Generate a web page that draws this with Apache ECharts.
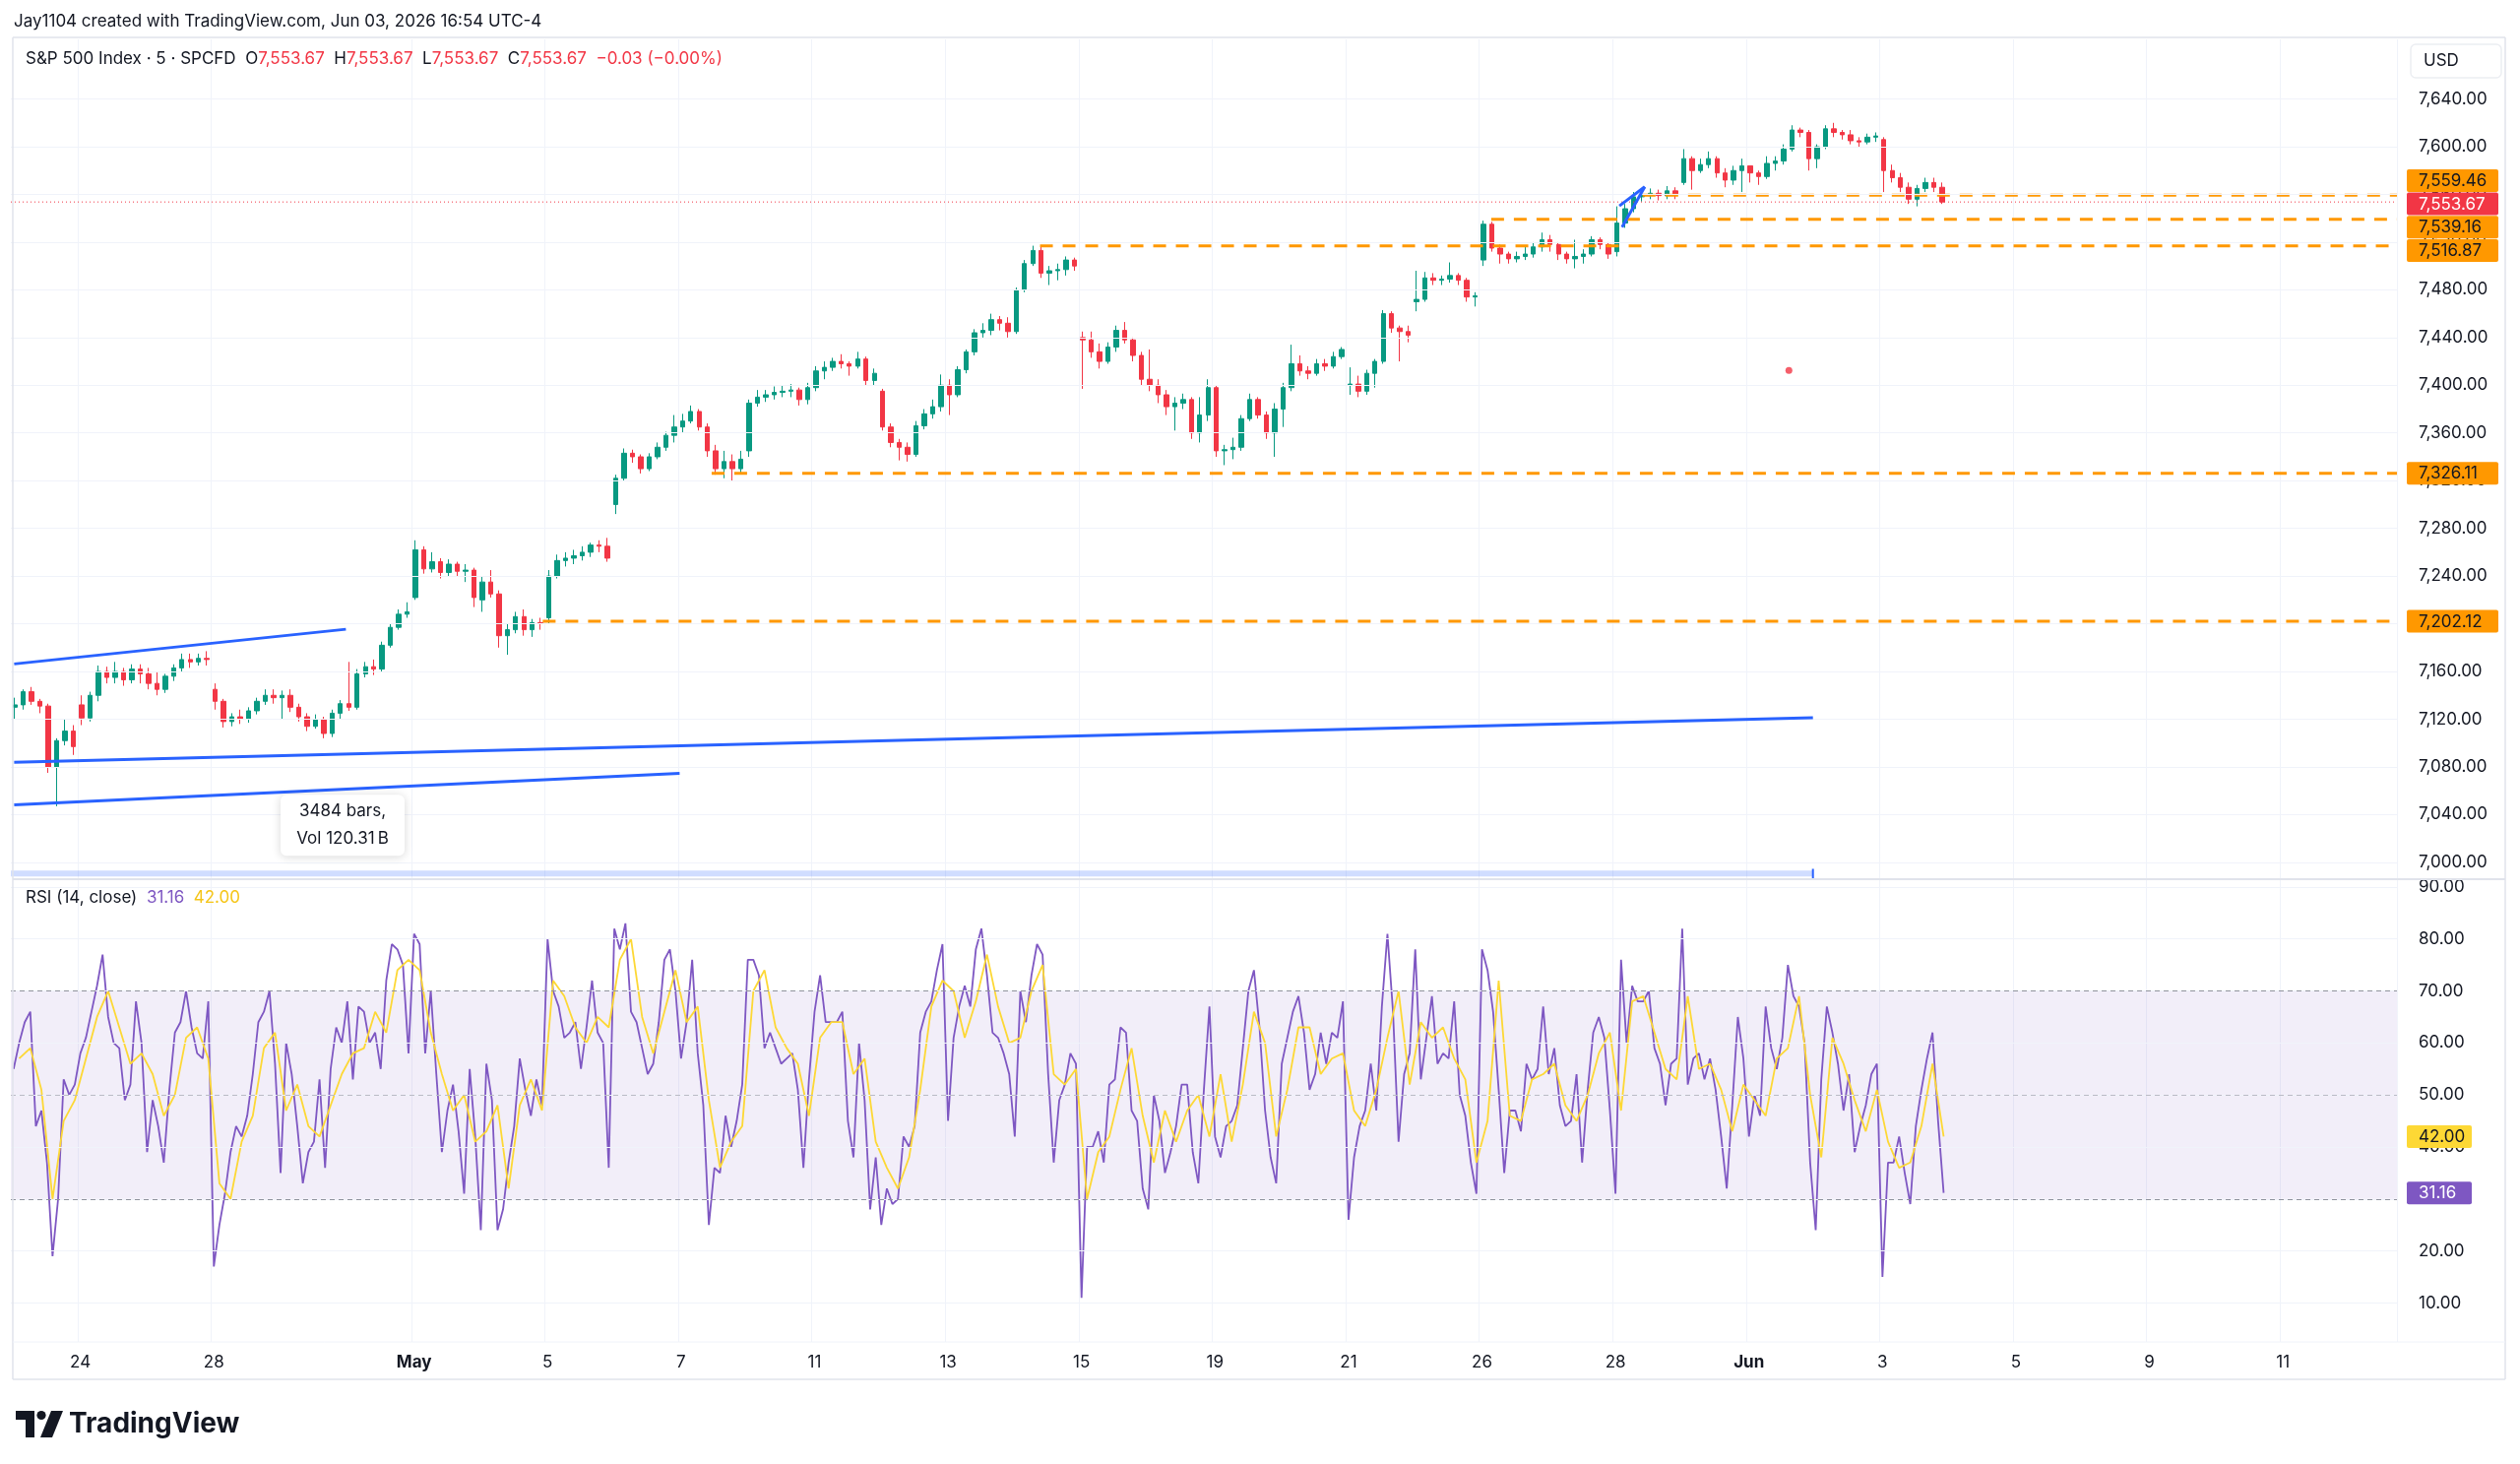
<!DOCTYPE html>
<html>
<head>
<meta charset="utf-8">
<script src="https://cdn.jsdelivr.net/npm/echarts@6/dist/echarts.min.js"></script>
<style>
html,body{margin:0;padding:0;background:#ffffff;}
#chart{width:2560px;height:1487px;}
</style>
</head>
<body>
<div id="chart"></div>
<script>
// ---------------- DATA ----------------
// trading sessions (plus future sessions that the time scale extends into)
const sessionDays = ['Apr 23','Apr 24','Apr 27','Apr 28','Apr 29','Apr 30','May 1','May 4','May 5','May 6','May 7','May 8',
  'May 11','May 12','May 13','May 14','May 15','May 18','May 19','May 20','May 21','May 22','May 26','May 27','May 28','May 29',
  'Jun 1','Jun 2','Jun 3'];
const futureDays = ['Jun 4','Jun 5','Jun 8','Jun 9','Jun 10','Jun 11','Jun 12'];

// time-axis tick labels
const tickDays  = ['Apr 24','Apr 28','May 1','May 5','May 7','May 11','May 13','May 15','May 19','May 21','May 26','May 28','Jun 1','Jun 3','Jun 5','Jun 9','Jun 11'];
const tickTexts = ['24','28','May','5','7','11','13','15','19','21','26','28','Jun','3','5','9','11'];

// price candles, 8 per session: [open, close, low, high]
const candles = [
  // Apr 23
  [7130,7132,7120,7138],[7132,7143,7128,7145],[7143,7135,7132,7147],[7135,7131,7125,7137],[7131,7080,7075,7133],[7080,7102,7047,7104],[7102,7110,7098,7120],[7110,7097,7090,7115],
  // Apr 24
  [7132,7121,7115,7140],[7121,7140,7118,7143],[7140,7160,7135,7165],[7160,7155,7150,7164],[7155,7160,7150,7168],[7160,7153,7148,7163],[7153,7162,7150,7166],[7162,7158,7150,7166],
  // Apr 27
  [7158,7150,7145,7163],[7150,7145,7140,7160],[7145,7156,7142,7158],[7156,7163,7152,7166],[7163,7170,7160,7175],[7170,7168,7163,7175],[7168,7171,7165,7175],[7171,7170,7165,7177],
  // Apr 28
  [7145,7135,7128,7150],[7135,7118,7113,7137],[7118,7122,7114,7125],[7122,7120,7116,7128],[7120,7127,7117,7130],[7127,7135,7124,7138],[7135,7140,7132,7145],[7140,7138,7133,7145],
  // Apr 29
  [7138,7140,7120,7144],[7140,7130,7126,7145],[7130,7122,7118,7133],[7122,7114,7110,7125],[7114,7120,7112,7124],[7120,7108,7104,7122],[7108,7125,7105,7128],[7125,7133,7120,7136],
  // Apr 30
  [7133,7130,7127,7168],[7130,7158,7128,7162],[7158,7164,7155,7168],[7164,7162,7157,7170],[7162,7182,7160,7185],[7182,7197,7180,7200],[7197,7208,7195,7212],[7208,7210,7205,7218],
  // May 1
  [7222,7262,7220,7270],[7262,7246,7242,7265],[7246,7252,7243,7260],[7252,7243,7238,7255],[7243,7250,7240,7254],[7250,7244,7240,7252],[7244,7245,7235,7250],[7245,7222,7214,7247],
  // May 4
  [7220,7235,7210,7240],[7235,7225,7222,7245],[7225,7190,7180,7228],[7190,7195,7174,7200],[7195,7206,7192,7210],[7206,7195,7190,7212],[7195,7201,7189,7204],[7201,7200,7195,7205],
  // May 5
  [7205,7240,7200,7245],[7240,7253,7238,7258],[7253,7255,7248,7260],[7255,7257,7250,7262],[7257,7260,7253,7265],[7260,7266,7256,7268],[7266,7265,7260,7270],[7265,7255,7252,7272],
  // May 6
  [7300,7322,7292,7325],[7322,7343,7320,7347],[7343,7340,7335,7346],[7340,7330,7326,7342],[7330,7340,7328,7343],[7340,7348,7338,7352],[7348,7358,7345,7361],[7358,7365,7352,7375],
  // May 7
  [7365,7370,7360,7376],[7370,7378,7368,7383],[7378,7365,7362,7380],[7365,7345,7340,7368],[7345,7330,7325,7350],[7330,7336,7322,7345],[7336,7330,7320,7342],[7330,7338,7326,7345],
  // May 8
  [7345,7385,7340,7388],[7385,7390,7382,7396],[7390,7392,7386,7396],[7392,7394,7388,7399],[7394,7395,7390,7400],[7395,7396,7390,7401],[7396,7388,7383,7398],[7388,7398,7384,7402],
  // May 11
  [7398,7412,7395,7416],[7412,7415,7405,7420],[7415,7420,7412,7423],[7420,7418,7414,7426],[7418,7416,7408,7420],[7416,7422,7414,7428],[7422,7404,7400,7424],[7404,7410,7400,7414],
  // May 12
  [7395,7365,7362,7397],[7365,7352,7348,7368],[7352,7348,7337,7355],[7348,7342,7336,7352],[7342,7366,7340,7370],[7366,7376,7363,7380],[7376,7382,7372,7388],[7382,7400,7378,7409],
  // May 13
  [7400,7392,7375,7405],[7392,7413,7390,7416],[7413,7428,7410,7430],[7428,7444,7425,7447],[7444,7446,7440,7452],[7446,7455,7442,7460],[7455,7452,7446,7458],[7452,7445,7440,7457],
  // May 14
  [7445,7480,7443,7482],[7480,7502,7478,7505],[7502,7513,7500,7517],[7513,7494,7490,7516],[7494,7496,7484,7500],[7496,7497,7488,7502],[7497,7505,7492,7508],[7505,7500,7496,7507],
  // May 15
  [7440,7438,7397,7445],[7438,7428,7423,7445],[7428,7420,7414,7435],[7420,7432,7418,7436],[7432,7446,7428,7450],[7446,7438,7435,7453],[7438,7425,7420,7440],[7425,7405,7400,7428],
  // May 18
  [7405,7400,7395,7430],[7400,7392,7385,7405],[7392,7382,7375,7396],[7382,7385,7362,7390],[7385,7388,7380,7393],[7388,7360,7355,7390],[7360,7375,7352,7390],[7375,7398,7370,7405],
  // May 19
  [7398,7345,7340,7400],[7345,7346,7333,7350],[7346,7348,7338,7356],[7348,7372,7345,7375],[7372,7388,7370,7393],[7388,7375,7372,7390],[7375,7360,7355,7378],[7360,7380,7340,7385],
  // May 20
  [7380,7398,7365,7402],[7398,7418,7395,7434],[7418,7412,7408,7425],[7412,7410,7405,7416],[7410,7418,7408,7422],[7418,7416,7412,7422],[7416,7424,7414,7428],[7424,7430,7422,7432],
  // May 21
  [7400,7401,7392,7415],[7401,7395,7390,7408],[7395,7410,7392,7413],[7410,7420,7398,7422],[7420,7460,7418,7463],[7460,7448,7444,7462],[7448,7445,7420,7450],[7445,7442,7436,7450],
  // May 22
  [7470,7472,7462,7496],[7472,7490,7470,7495],[7490,7488,7484,7494],[7488,7489,7484,7492],[7489,7492,7486,7503],[7492,7488,7484,7494],[7488,7474,7470,7490],[7474,7475,7466,7478],
  // May 26
  [7505,7535,7500,7538],[7535,7515,7512,7537],[7515,7510,7502,7518],[7510,7506,7502,7512],[7506,7508,7503,7512],[7508,7510,7505,7516],[7510,7516,7507,7520],[7516,7522,7512,7528],
  // May 27
  [7522,7518,7512,7526],[7518,7510,7505,7520],[7510,7506,7502,7512],[7506,7508,7498,7522],[7508,7510,7502,7514],[7510,7522,7508,7525],[7522,7518,7514,7524],[7518,7510,7506,7520],
  // May 28
  [7512,7536,7508,7550],[7536,7548,7532,7552],[7548,7558,7545,7562],[7558,7559,7554,7564],[7559,7561,7556,7565],[7561,7559,7555,7564],[7559,7563,7556,7567],[7563,7560,7556,7566],
  // May 29
  [7570,7590,7568,7598],[7590,7580,7564,7592],[7580,7585,7578,7590],[7585,7590,7582,7596],[7590,7578,7574,7592],[7578,7572,7566,7582],[7572,7580,7568,7584],[7580,7584,7562,7590],
  // Jun 1
  [7584,7578,7570,7584],[7578,7575,7568,7580],[7575,7586,7573,7592],[7586,7588,7580,7592],[7588,7598,7585,7602],[7598,7614,7596,7618],[7614,7612,7608,7616],[7612,7590,7580,7614],
  // Jun 2
  [7590,7600,7582,7602],[7600,7615,7598,7618],[7615,7612,7608,7620],[7612,7610,7606,7614],[7610,7605,7602,7614],[7605,7604,7600,7608],[7604,7608,7602,7611],[7608,7609,7604,7612],
  // Jun 3
  [7606,7580,7562,7608],[7580,7574,7570,7585],[7574,7566,7562,7578],[7566,7556,7552,7570],[7556,7565,7550,7568],[7565,7570,7562,7574],[7570,7566,7562,7574],[7566,7553.67,7552,7570]
];
const lastClose = 7553.67;
const lastChange = '\u22120.03 (\u22120.00%)';

// RSI(14), 12 readings per session
const rsiValues = [
  55,60,64,66,44,47,37,19,30,53,50,52,
  58,61,66,71,77,65,60,59,49,52,68,60,
  39,49,44,37,51,62,64,70,63,58,57,68,
  17,25,31,39,44,42,46,54,64,66,70,56,
  35,60,54,44,33,39,41,53,36,55,63,60,
  68,53,67,66,60,62,55,72,79,78,75,58,
  81,79,58,70,54,39,47,52,43,31,55,42,
  24,56,49,24,28,37,44,57,51,46,53,48,
  80,70,67,61,62,64,55,63,72,62,60,36,
  82,78,83,66,64,59,54,56,64,76,78,70,
  57,64,76,58,48,25,36,35,46,40,45,52,
  76,76,73,59,62,59,56,57,58,51,36,53,
  66,73,64,64,64,66,45,38,60,49,28,38,
  25,32,29,30,42,40,44,62,66,68,74,79,
  45,61,67,71,67,78,82,73,62,61,58,54,
  42,70,64,73,79,77,54,37,49,52,58,56,
  11,40,40,43,37,52,53,63,62,47,45,32,
  28,50,45,35,39,44,52,52,39,33,51,67,
  42,38,44,45,48,59,70,74,63,47,38,33,
  56,61,66,69,62,51,54,62,56,62,61,68,
  26,38,44,47,56,47,67,81,66,41,54,58,
  78,53,61,69,56,58,57,68,50,46,37,31,
  78,74,66,51,35,47,47,43,56,53,55,67,
  54,59,48,44,45,54,37,51,62,65,61,47,
  31,76,60,71,68,68,70,59,56,48,56,57,
  82,52,57,58,53,57,51,42,32,48,65,57,
  42,50,46,67,59,55,61,75,69,67,60,37,
  24,53,67,62,56,47,54,39,44,48,54,56,
  15,37,37,42,35,29,44,51,57,62,45,31.16
];
// RSI-based moving average, 6 readings per session
const rsiMaValues = [
  57,59,51,30,45,49,
  57,65,70,63,56,58,
  54,46,50,61,63,57,
  33,30,41,46,59,62,
  47,52,44,42,48,54,
  58,59,66,62,74,76,
  74,62,54,47,50,41,
  43,48,32,48,53,47,
  72,69,63,60,65,63,
  76,80,65,58,66,74,
  64,67,49,36,41,44,
  70,74,63,59,56,46,
  61,64,64,54,57,41,
  36,32,38,51,67,72,
  70,61,68,77,67,60,
  61,70,75,54,52,55,
  30,39,42,51,59,46,
  37,47,41,47,50,42,
  54,41,52,66,60,42,
  51,63,63,54,57,58,
  47,44,51,61,70,52,
  64,61,63,57,53,37,
  45,72,46,45,53,54,
  56,48,45,50,58,62,
  47,68,69,62,55,53,
  69,55,56,51,43,52,
  49,46,57,59,69,50,
  38,61,56,49,43,51,
  41,36,37,44,56,42
];

// axis ticks
const priceTicks = [7000,7040,7080,7120,7160,7200,7240,7280,7320,7360,7400,7440,7480,7520,7560,7600,7640];
const rsiTicks = [10,20,30,40,50,60,70,80,90];
const rsiBands = [30,50,70];

// drawings (x in sessions from Apr 24 = 0)
const levelPrices    = [7559.46, 7539.16, 7516.87, 7326.11, 7202.12];
const levelStartDays = [23.45, 21.18, 14.42, 9.50, 6.97];
const trendLines = [
  [[-0.95,7166.3],[4.02,7195.4]],
  [[-0.95,7083.8],[26.0,7121.3]],
  [[-0.95,7048.1],[9.02,7074.5]],
  [[23.10,7550.4],[23.48,7566.4]],
  [[23.14,7532.5],[23.48,7566.4]]
];
const markerDot = [25.64, 7412.4];
const rangeLine = [[-1, 6990.5],[26.0, 6990.5]];
const rangeTick = [[26.0, 6986.5],[26.0, 6994.5]];
const rangeBoxAnchor = [3.97, 7031];
const rangeBoxLines = ['3484 bars,', 'Vol 120.31\u2009B'];

// ---------------- BUILD ----------------
const FONT = 'Inter, "Noto Sans", Roboto, sans-serif';
const allDays = sessionDays.concat(futureDays);
const DAY_SPAN = 35.75;             // sessions shown on the time scale (from Apr 23)
const priceCats = [], rsiCats = [];
allDays.forEach((d, j) => {
  const n8 = j < allDays.length - 1 ? 8 : 6;
  const n12 = j < allDays.length - 1 ? 12 : 9;
  for (let k = 0; k < n8; k++) priceCats.push(d + ' #' + k);
  for (let k = 0; k < n12; k++) rsiCats.push(d + ' #' + k);
});
const priceTickIdx = new Set(tickDays.map(d => allDays.indexOf(d) * 8));
const rsiTickMap = new Map(tickDays.map((d, i) => [allDays.indexOf(d) * 12, tickTexts[i]]));

const maSeries = [];
rsiMaValues.forEach((v, i) => {
  const day = Math.floor(i / 6), k = i % 6;
  maSeries[day * 12 + k * 2] = null;
  maSeries[day * 12 + k * 2 + 1] = v;
});

const fmt = v => v.toLocaleString('en-US', {minimumFractionDigits: 2, maximumFractionDigits: 2});

const annotationSeries = [];
levelPrices.forEach((p, i) => {
  annotationSeries.push({
    type: 'line', xAxisIndex: 1, yAxisIndex: 0, silent: true, symbol: 'none', z: 4,
    data: [[levelStartDays[i], p], [DAY_SPAN - 1, p]],
    lineStyle: {color: '#ff9800', width: 3, type: [13, 10]}
  });
});
annotationSeries.push({
  type: 'line', xAxisIndex: 1, yAxisIndex: 0, silent: true, symbol: 'none', z: 3,
  data: [[-1, lastClose], [DAY_SPAN - 1, lastClose]],
  lineStyle: {color: '#f23645', width: 1, type: [1, 3]}
});
trendLines.forEach(seg => {
  annotationSeries.push({
    type: 'line', xAxisIndex: 1, yAxisIndex: 0, silent: true, symbol: 'none', z: 5,
    data: seg, lineStyle: {color: '#2962ff', width: 3}
  });
});
annotationSeries.push({
  type: 'line', xAxisIndex: 1, yAxisIndex: 0, silent: true, symbol: 'none', z: 3,
  data: rangeLine, lineStyle: {color: 'rgba(41,98,255,0.22)', width: 6}
});
annotationSeries.push({
  type: 'line', xAxisIndex: 1, yAxisIndex: 0, silent: true, symbol: 'none', z: 5,
  data: rangeTick, lineStyle: {color: '#2962ff', width: 2}
});
annotationSeries.push({
  type: 'scatter', xAxisIndex: 1, yAxisIndex: 0, silent: true, z: 5,
  data: [markerDot], symbolSize: 7, itemStyle: {color: '#f23645'}
});

const rsiMarkLines = rsiTicks.map(v => ({yAxis: v, lineStyle: {color: '#f0f3fa', width: 1, type: 'solid'}}))
  .concat(rsiBands.map(v => ({yAxis: v, lineStyle: {color: v === 50 ? 'rgba(120,123,134,0.45)' : 'rgba(120,123,134,0.8)', width: 1, type: [5, 4]}})));

const legendText = 'S&P 500 Index \u00b7 5 \u00b7 SPCFD  O{r|' + fmt(lastClose) + '}  H{r|' + fmt(lastClose) +
  '}  L{r|' + fmt(lastClose) + '}  C{r|' + fmt(lastClose) + '}  {r|' + lastChange + '}';
const rsiLast = rsiValues[rsiValues.length - 1];
const maLast = rsiMaValues[rsiMaValues.length - 1];

const chart = echarts.init(document.getElementById('chart'));
const option = {
  animation: false,
  backgroundColor: '#ffffff',
  textStyle: {fontFamily: FONT},
  title: [
    {text: 'Jay1104 created with TradingView.com, Jun 03, 2026 16:54 UTC-4', left: 14, top: 13, padding: 0,
     textStyle: {fontSize: 17, fontWeight: 'normal', color: '#131722', fontFamily: FONT}},
    {text: legendText, left: 26, top: 51, padding: 0,
     textStyle: {fontSize: 17, fontWeight: 'normal', color: '#131722', fontFamily: FONT,
       rich: {r: {color: '#f23645', fontSize: 17, fontFamily: FONT}}}},
    {text: 'RSI (14, close)  {p|' + fmt(rsiLast) + '}  {y|' + fmt(maLast) + '}', left: 26, top: 903, padding: 0,
     textStyle: {fontSize: 17, fontWeight: 'normal', color: '#131722', fontFamily: FONT,
       rich: {p: {color: '#7e57c2', fontSize: 17, fontFamily: FONT}, y: {color: '#f5c518', fontSize: 17, fontFamily: FONT}}}}
  ],
  grid: [
    {left: 11, top: 40, width: 2424, height: 854},
    {left: 11, top: 893, width: 2424, height: 470}
  ],
  xAxis: [
    {type: 'category', gridIndex: 0, data: priceCats, boundaryGap: true,
     axisLine: {show: false}, axisTick: {show: false}, axisLabel: {show: false},
     splitLine: {show: true, interval: (i) => priceTickIdx.has(i), lineStyle: {color: '#f0f3fa', width: 1}}},
    {type: 'value', gridIndex: 0, min: -1, max: DAY_SPAN - 1, show: false},
    {type: 'category', gridIndex: 1, data: rsiCats, boundaryGap: true,
     axisLine: {show: false}, axisTick: {show: false},
     axisLabel: {show: true, interval: (i) => rsiTickMap.has(i), margin: 12, fontSize: 17, color: '#131722', fontFamily: FONT,
       formatter: (v, i) => { const t = rsiTickMap.get(i) || ''; return (t === 'May' || t === 'Jun') ? '{b|' + t + '}' : t; },
       rich: {b: {fontWeight: 'bold', fontSize: 17, color: '#131722', fontFamily: FONT}}},
     splitLine: {show: true, interval: (i) => rsiTickMap.has(i), lineStyle: {color: '#f0f3fa', width: 1}}}
  ],
  yAxis: [
    {type: 'value', gridIndex: 0, position: 'right', min: 6985, max: 7690, interval: 5, scale: false,
     axisLine: {show: false}, axisTick: {show: false}, splitLine: {show: false},
     axisLabel: {margin: 22, fontSize: 17, color: '#131722', fontFamily: FONT,
       formatter: v => (priceTicks.indexOf(Math.round(v)) >= 0 && Math.abs(v - Math.round(v)) < 1e-6) ? fmt(Math.round(v)) : ''}},
    {type: 'value', gridIndex: 1, position: 'right', min: 2.5, max: 91.5, interval: 2.5,
     axisLine: {show: false}, axisTick: {show: false}, splitLine: {show: false},
     axisLabel: {margin: 22, fontSize: 17, color: '#131722', fontFamily: FONT,
       formatter: v => { const r = Math.round(v); return (rsiTicks.indexOf(r) >= 0 && Math.abs(v - r) < 1e-6) ? fmt(r) : ''; }}}
  ],
  series: [
    {type: 'line', xAxisIndex: 1, yAxisIndex: 0, data: [[-1, 7000]], symbol: 'none', silent: true, z: 1,
     lineStyle: {opacity: 0},
     markLine: {silent: true, symbol: ['none', 'none'], label: {show: false}, animation: false,
       lineStyle: {color: '#f0f3fa', width: 1, type: 'solid'},
       data: priceTicks.map(v => ({yAxis: v}))}},
    {type: 'candlestick', xAxisIndex: 0, yAxisIndex: 0, data: candles, z: 2, barWidth: '58%',
     itemStyle: {color: '#089981', color0: '#f23645', borderColor: '#089981', borderColor0: '#f23645', borderWidth: 1}}
  ].concat(annotationSeries).concat([
    {type: 'line', xAxisIndex: 2, yAxisIndex: 1, data: [[0, 50]], symbol: 'none', silent: true, z: 1,
     lineStyle: {opacity: 0},
     markArea: {silent: true, itemStyle: {color: 'rgba(126,87,194,0.1)'}, data: [[{yAxis: 30}, {yAxis: 70}]]},
     markLine: {silent: true, symbol: ['none', 'none'], label: {show: false}, animation: false, data: rsiMarkLines}},
    {type: 'line', xAxisIndex: 2, yAxisIndex: 1, data: rsiValues, symbol: 'none', z: 3,
     lineStyle: {color: '#7e57c2', width: 1.8}},
    {type: 'line', xAxisIndex: 2, yAxisIndex: 1, data: maSeries, symbol: 'none', connectNulls: true, z: 4,
     lineStyle: {color: '#fdd835', width: 1.8}}
  ])
};
chart.setOption(option);

// ---------------- OVERLAYS (frame, price tags, notes) ----------------
function layoutTags(tags, h) {
  tags.sort((a, b) => a.y - b.y);
  let groups = tags.map(t => ({items: [t], c: t.y}));
  let changed = true;
  while (changed) {
    changed = false;
    for (let i = 0; i < groups.length - 1; i++) {
      const a = groups[i], b = groups[i + 1];
      if (b.c - b.items.length * h / 2 < a.c + a.items.length * h / 2) {
        const items = a.items.concat(b.items);
        const c = items.reduce((s, t) => s + t.y, 0) / items.length;
        groups.splice(i, 2, {items, c});
        changed = true; break;
      }
    }
  }
  groups.forEach(g => g.items.forEach((t, j) => { t.py = g.c + (j - (g.items.length - 1) / 2) * h; }));
  return tags;
}
const TAG_H = 23.7;
const priceTags = levelPrices.map(v => ({v, bg: '#ff9800', fg: '#131722'}))
  .concat([{v: lastClose, bg: '#f23645', fg: '#ffffff'}]);
priceTags.forEach(t => { t.y = chart.convertToPixel({yAxisIndex: 0}, t.v); });
layoutTags(priceTags, TAG_H);
const rsiTags = [{v: maLast, bg: '#fdd835', fg: '#131722'}, {v: rsiLast, bg: '#7e57c2', fg: '#ffffff'}];
rsiTags.forEach(t => { t.y = chart.convertToPixel({yAxisIndex: 1}, t.v); });
layoutTags(rsiTags, TAG_H);

const border = '#e0e3eb';
const g = [];
function line(x1, y1, x2, y2, stroke, w) { g.push({type: 'line', z: 50, silent: true, shape: {x1, y1, x2, y2}, style: {stroke, lineWidth: w}}); }
line(13, 38, 2545, 38, border, 1.5);
line(13, 38, 13, 1401, border, 1.5);
line(2545, 38, 2545, 1401, border, 1.5);
line(13, 1401, 2545, 1401, border, 1.5);
line(13, 893, 2545, 893, border, 2);
line(13, 1363, 2545, 1363, '#f0f3fa', 1);

priceTags.concat(rsiTags).forEach((t, i) => {
  const w = i < priceTags.length ? 93 : 66;
  g.push({type: 'rect', z: 60, silent: true, shape: {x: 2445, y: t.py - 11.5, width: w, height: 23, r: 2}, style: {fill: t.bg}});
  g.push({type: 'text', z: 61, silent: true, style: {x: 2457, y: t.py + 0.5, text: fmt(t.v), fill: t.fg,
    fontSize: 17, fontFamily: FONT, align: 'left', verticalAlign: 'middle'}});
});

// USD box
g.push({type: 'rect', z: 60, silent: true, shape: {x: 2449, y: 45, width: 92, height: 34, r: 5}, style: {fill: '#ffffff', stroke: '#eceef2', lineWidth: 1.5}});
g.push({type: 'text', z: 61, silent: true, style: {x: 2462, y: 62, text: 'USD', fill: '#131722', fontSize: 17, fontFamily: FONT, align: 'left', verticalAlign: 'middle'}});

// date range info box
const bp = chart.convertToPixel({xAxisIndex: 1, yAxisIndex: 0}, rangeBoxAnchor);
g.push({type: 'rect', z: 60, silent: true, shape: {x: bp[0] - 63, y: bp[1] - 31, width: 126, height: 62, r: 6},
  style: {fill: '#ffffff', shadowBlur: 10, shadowColor: 'rgba(0,0,0,0.16)', shadowOffsetY: 1}});
g.push({type: 'text', z: 61, silent: true, style: {x: bp[0], y: bp[1] - 14, text: rangeBoxLines[0], fill: '#131722', fontSize: 17, fontFamily: FONT, align: 'center', verticalAlign: 'middle'}});
g.push({type: 'text', z: 61, silent: true, style: {x: bp[0], y: bp[1] + 14, text: rangeBoxLines[1], fill: '#131722', fontSize: 17, fontFamily: FONT, align: 'center', verticalAlign: 'middle'}});

// TradingView logo
g.push({type: 'polygon', z: 60, silent: true, shape: {points: [[16,1433],[35,1433],[35,1460],[26,1460],[26,1442],[16,1442]]}, style: {fill: '#131722'}});
g.push({type: 'circle', z: 60, silent: true, shape: {cx: 42, cy: 1437.5, r: 4.6}, style: {fill: '#131722'}});
g.push({type: 'polygon', z: 60, silent: true, shape: {points: [[52,1433],[64,1433],[53,1460],[41,1460]]}, style: {fill: '#131722'}});
g.push({type: 'text', z: 60, silent: true, style: {x: 70, y: 1447, text: 'TradingView', fill: '#131722', fontSize: 28, fontWeight: 'bold', fontFamily: FONT, align: 'left', verticalAlign: 'middle'}});

chart.setOption({graphic: {elements: g}});
</script>
</body>
</html>
